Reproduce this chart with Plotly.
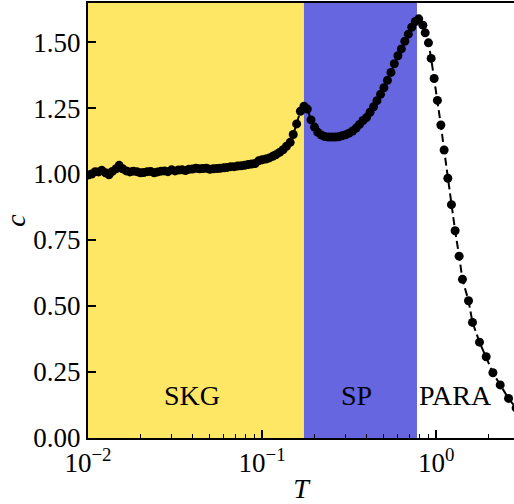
import numpy as np
import plotly.graph_objects as go

# Temperatures (T) and specific heat (c)
T_vals = [
    0.0100, 0.0105, 0.0110, 0.0115, 0.0120, 0.0126, 0.0132, 0.0138, 0.0145, 0.0151,
    0.0158, 0.0166, 0.0174, 0.0182, 0.0191, 0.0200, 0.0209, 0.0219, 0.0229, 0.0240,
    0.0251, 0.0263, 0.0275, 0.0288, 0.0302, 0.0316, 0.0331, 0.0347, 0.0363, 0.0380,
    0.0398, 0.0417, 0.0437, 0.0457, 0.0479, 0.0501, 0.0525, 0.0550, 0.0575, 0.0603,
    0.0631, 0.0661, 0.0692, 0.0724, 0.0759, 0.0794, 0.0832, 0.0871, 0.0912, 0.0955,
    0.1000, 0.105, 0.110, 0.115, 0.120, 0.126, 0.132, 0.138, 0.145, 0.151,
    0.158, 0.166, 0.174, 0.182, 0.191, 0.200, 0.209, 0.219, 0.229, 0.240,
    0.251, 0.263, 0.275, 0.288, 0.302, 0.316, 0.331, 0.347, 0.363, 0.380,
    0.398, 0.417, 0.437, 0.457, 0.479, 0.501, 0.525, 0.550, 0.575, 0.603,
    0.631, 0.661, 0.692, 0.724, 0.759, 0.794,
    0.839, 0.865, 0.903, 0.936, 0.974, 1.017, 1.064, 1.111, 1.167, 1.224,
    1.285, 1.355, 1.416, 1.534, 1.617, 1.774, 1.938, 2.118, 2.333, 2.605, 2.880,
]
c_vals = [
    0.996, 1.000, 1.009, 1.008, 1.014, 1.005, 0.997, 1.010, 1.020, 1.033,
    1.020, 1.012, 1.008, 1.011, 1.009, 1.005, 1.006, 1.009, 1.010, 1.005,
    1.008, 1.011, 1.012, 1.009, 1.016, 1.012, 1.015, 1.016, 1.013, 1.018,
    1.019, 1.022, 1.020, 1.021, 1.022, 1.018, 1.020, 1.021, 1.022, 1.024,
    1.025, 1.028, 1.028, 1.030, 1.031, 1.033, 1.036, 1.038, 1.040, 1.050,
    1.054, 1.057, 1.061, 1.067, 1.073, 1.082, 1.092, 1.105, 1.120, 1.150,
    1.190, 1.238, 1.257, 1.246, 1.205, 1.178, 1.158, 1.148, 1.142, 1.140,
    1.140, 1.140, 1.141, 1.145, 1.149, 1.155, 1.163, 1.174, 1.188, 1.203,
    1.214, 1.234, 1.255, 1.278, 1.302, 1.327, 1.355, 1.385, 1.418, 1.448,
    1.474, 1.503, 1.530, 1.556, 1.578, 1.588,
    1.564, 1.535, 1.497, 1.438, 1.362, 1.279, 1.186, 1.091, 0.984, 0.884,
    0.785, 0.689, 0.601, 0.520, 0.438, 0.363, 0.308, 0.247, 0.201, 0.150, 0.114,
]

# Phase boundaries
T_skg_sp = 0.174
T_sp_para = 0.776
T_min, T_max = 0.01, 2.8
c_max = 1.648

phase_labels = ["SKG", "SP", "PARA"]
phase_label_T = [0.0396, 0.347, 1.285]
phase_label_c = [0.16, 0.16, 0.16]

x_tick_vals = [0.01, 0.1, 1]
x_tick_text = ["10<sup>\u22122</sup>", "10<sup>\u22121</sup>", "10<sup>0</sup>"]
y_tick_vals = [0.0, 0.25, 0.5, 0.75, 1.0, 1.25, 1.5]
minor_vals = [m * d for d in (0.01, 0.1, 1) for m in range(2, 10)]

FONT = "Liberation Serif"

fig = go.Figure()
fig.add_trace(go.Scatter(
    x=[0.005, T_skg_sp, T_skg_sp, 0.005], y=[0, 0, 2, 2],
    fill="toself", fillcolor="#FFE766", mode="none", hoverinfo="skip", showlegend=False))
fig.add_trace(go.Scatter(
    x=[T_skg_sp, T_sp_para, T_sp_para, T_skg_sp], y=[0, 0, 2, 2],
    fill="toself", fillcolor="#6666E0", mode="none", hoverinfo="skip", showlegend=False))
fig.add_trace(go.Scatter(
    x=T_vals, y=c_vals, mode="lines+markers",
    line=dict(color="black", width=2, dash="8px,4px"),
    marker=dict(color="black", size=9),
    showlegend=False, cliponaxis=True))

for lab, tx, cy in zip(phase_labels, phase_label_T, phase_label_c):
    fig.add_annotation(x=np.log10(tx), y=cy, text=lab, showarrow=False,
                       font=dict(family=FONT, size=28, color="black"),
                       xanchor="center", yanchor="middle")

fig.update_layout(
    width=514, height=504,
    margin=dict(l=88, r=0, t=3, b=66),
    paper_bgcolor="white", plot_bgcolor="white",
    font=dict(family=FONT, size=27, color="black"),
    showlegend=False,
)
fig.update_xaxes(
    type="log", range=[np.log10(T_min), np.log10(T_max)],
    tickvals=x_tick_vals, ticktext=x_tick_text,
    ticks="inside", ticklen=8, tickwidth=1.5, tickcolor="black",
    minor=dict(tickvals=minor_vals, ticks="inside", ticklen=4, tickwidth=1.2, tickcolor="black", showgrid=False),
    showline=True, linecolor="black", linewidth=2, mirror=True,
    showgrid=False, zeroline=False,
    tickfont=dict(family=FONT, size=27),
    title=dict(text="<i>T</i>", font=dict(family=FONT, size=28), standoff=2),
)
fig.update_yaxes(
    range=[0, c_max],
    tickvals=y_tick_vals, tickformat=".2f",
    ticks="inside", ticklen=8, tickwidth=1.5, tickcolor="black",
    showline=True, linecolor="black", linewidth=2, mirror=False,
    showgrid=False, zeroline=False,
    tickfont=dict(family=FONT, size=27),
    title=dict(text="<i>c</i>", font=dict(family=FONT, size=28), standoff=8),
)

fig.write_html("out.html")
